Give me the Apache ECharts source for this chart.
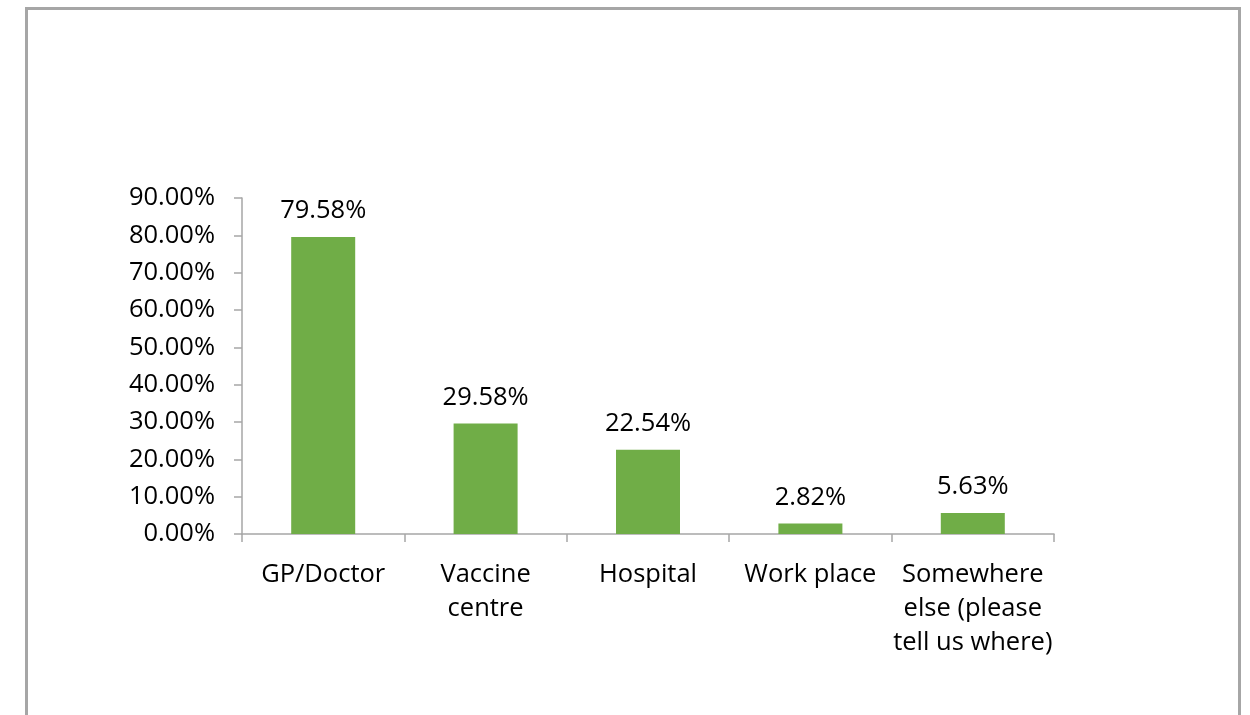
<!DOCTYPE html>
<html>
<head>
<meta charset="utf-8">
<script src="https://cdn.jsdelivr.net/npm/echarts@6/dist/echarts.min.js"></script>
<style>
  html, body { margin: 0; padding: 0; background: #ffffff; }
  #chart { width: 1250px; height: 715px; }
</style>
</head>
<body>
<div id="chart"></div>
<script>
const categories = ['GP/Doctor', 'Vaccine centre', 'Hospital', 'Work place', 'Somewhere else (please tell us where)'];
const tickLabels = ['GP/Doctor', 'Vaccine\ncentre', 'Hospital', 'Work place', 'Somewhere\nelse (please\ntell us where)'];
const values = [79.58, 29.58, 22.54, 2.82, 5.63];

const chart = echarts.init(document.getElementById('chart'), null, { renderer: 'canvas' });
const FONT = '"Open Sans", "Noto Sans", sans-serif';
const AXIS_COLOR = '#a6a6a6';
const FS = 25.5;

chart.setOption({
  animation: false,
  backgroundColor: '#ffffff',
  graphic: [{
    type: 'rect',
    shape: { x: 26.5, y: 8.5, width: 1213, height: 800 },
    style: { fill: 'none', stroke: '#a6a6a6', lineWidth: 3 },
    silent: true
  }],
  grid: { left: 242, right: 196, top: 198, bottom: 181, containLabel: false },
  xAxis: {
    type: 'category',
    data: categories,
    boundaryGap: true,
    axisLine: { show: true, lineStyle: { color: AXIS_COLOR, width: 1.5 } },
    axisTick: { show: true, length: 8, lineStyle: { color: AXIS_COLOR, width: 1.5 } },
    axisLabel: {
      interval: 0,
      margin: 24,
      color: '#000000',
      fontFamily: FONT,
      fontSize: FS,
      lineHeight: 34,
      formatter: (v, i) => tickLabels[i]
    }
  },
  yAxis: {
    type: 'value',
    min: 0,
    max: 90,
    interval: 10,
    splitLine: { show: false },
    axisLine: { show: true, lineStyle: { color: AXIS_COLOR, width: 1.5 } },
    axisTick: { show: true, length: 8, lineStyle: { color: AXIS_COLOR, width: 1.5 } },
    axisLabel: {
      margin: 27,
      color: '#000000',
      fontFamily: FONT,
      fontSize: FS,
      formatter: v => v.toFixed(2) + '%'
    }
  },
  series: [{
    type: 'bar',
    data: values,
    barWidth: 64,
    itemStyle: { color: '#70ad47' },
    label: {
      show: true,
      position: 'top',
      distance: 13,
      color: '#000000',
      fontFamily: FONT,
      fontSize: FS,
      formatter: p => p.value.toFixed(2) + '%'
    }
  }]
});
</script>
</body>
</html>
